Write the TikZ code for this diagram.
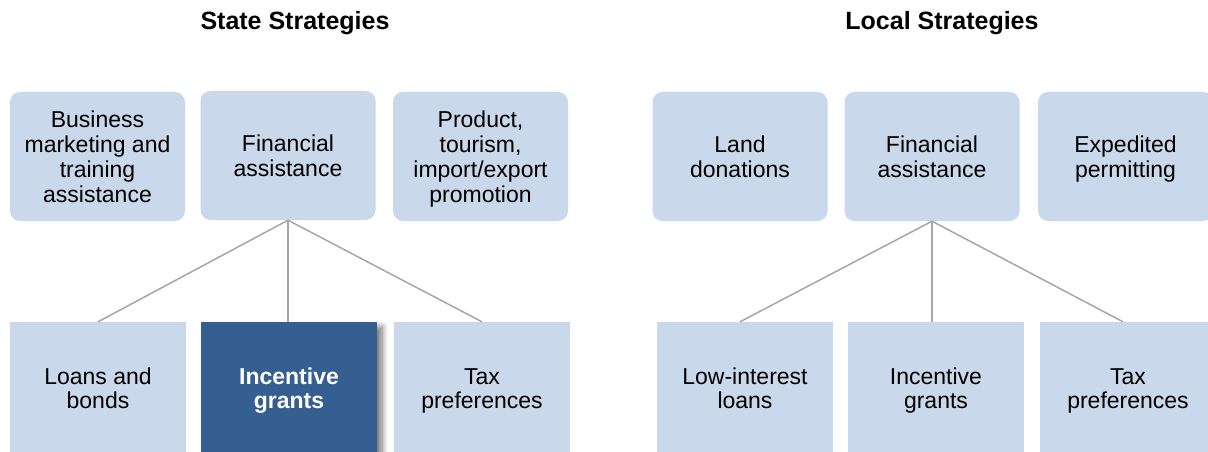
\documentclass[tikz,border=0pt]{standalone}
\usepackage{fontspec}
\setmainfont{Liberation Sans}
\usetikzlibrary{shadows.blur}
\definecolor{boxlight}{RGB}{202,216,235}
\definecolor{boxdark}{RGB}{54,95,145}
\definecolor{linkgray}{RGB}{166,166,166}
\newcommand\tg{\rule{0pt}{24.3pt}}
\newcommand\bg{\rule[-7.4pt]{0pt}{7.4pt}}
\tikzset{
  boxtxt/.style={font=\fontsize{23}{24.7}\selectfont, align=center, inner sep=0pt, text=black},
  topbox/.style={boxtxt, rounded corners=10pt, fill=boxlight, minimum width=175pt, minimum height=129pt},
  botbox/.style={boxtxt, fill=boxlight, minimum width=176pt, minimum height=132pt},
  darkbox/.style={botbox, fill=boxdark, text=white, font=\fontsize{23}{24.7}\selectfont\bfseries,
    blur shadow={shadow xshift=5pt, shadow yshift=-5pt, shadow blur radius=6pt, shadow blur steps=10, shadow opacity=55}},
  heading/.style={font=\fontsize{25}{28}\selectfont\bfseries, inner sep=0pt},
  link/.style={draw=linkgray, line width=1.5pt}
}
\begin{document}
\begin{tikzpicture}[x=1pt,y=-1pt]
\useasboundingbox (0,0) rectangle (1208,452);
\clip (0,0) rectangle (1208,452);
% headings
\node[heading] (hs) at (295,23) {State Strategies};
\node[heading] (hl) at (942,23) {Local Strategies};
% state top
\node[topbox] (s1) at (97.5,156.5) {\tg Business\\marketing and\\training\\assistance\bg};
\node[topbox] (s2) at (288,155.5) {\tg Financial\\assistance\bg};
\node[topbox] (s3) at (480.5,156.5) {\tg Product,\\tourism,\\import/export\\promotion\bg};
% state bottom
\node[botbox] (b1) at (98,388) {\tg Loans and\\bonds\bg};
\node[darkbox] (b2) at (289,388) {\tg Incentive\\grants\bg};
\node[botbox] (b3) at (482,388) {\tg Tax\\preferences\bg};
% local top
\node[topbox] (l1) at (740,156.5) {\tg Land\\donations\bg};
\node[topbox] (l2) at (932,156.5) {\tg Financial\\assistance\bg};
\node[topbox] (l3) at (1125.5,156.5) {\tg Expedited\\permitting\bg};
% local bottom
\node[botbox] (c1) at (745,388) {\tg Low-interest\\loans\bg};
\node[botbox] (c2) at (936,388) {\tg Incentive\\grants\bg};
\node[botbox] (c3) at (1128,388) {\tg Tax\\preferences\bg};
% connectors
\draw[link] (s2.south) -- (b1.north);
\draw[link] (s2.south) -- (b2.north -| s2.south);
\draw[link] (s2.south) -- (b3.north);
\draw[link] (l2.south) -- ([xshift=-5pt]c1.north);
\draw[link] (l2.south) -- (c2.north -| l2.south);
\draw[link] (l2.south) -- ([xshift=-5pt]c3.north);
\end{tikzpicture}
\end{document}
